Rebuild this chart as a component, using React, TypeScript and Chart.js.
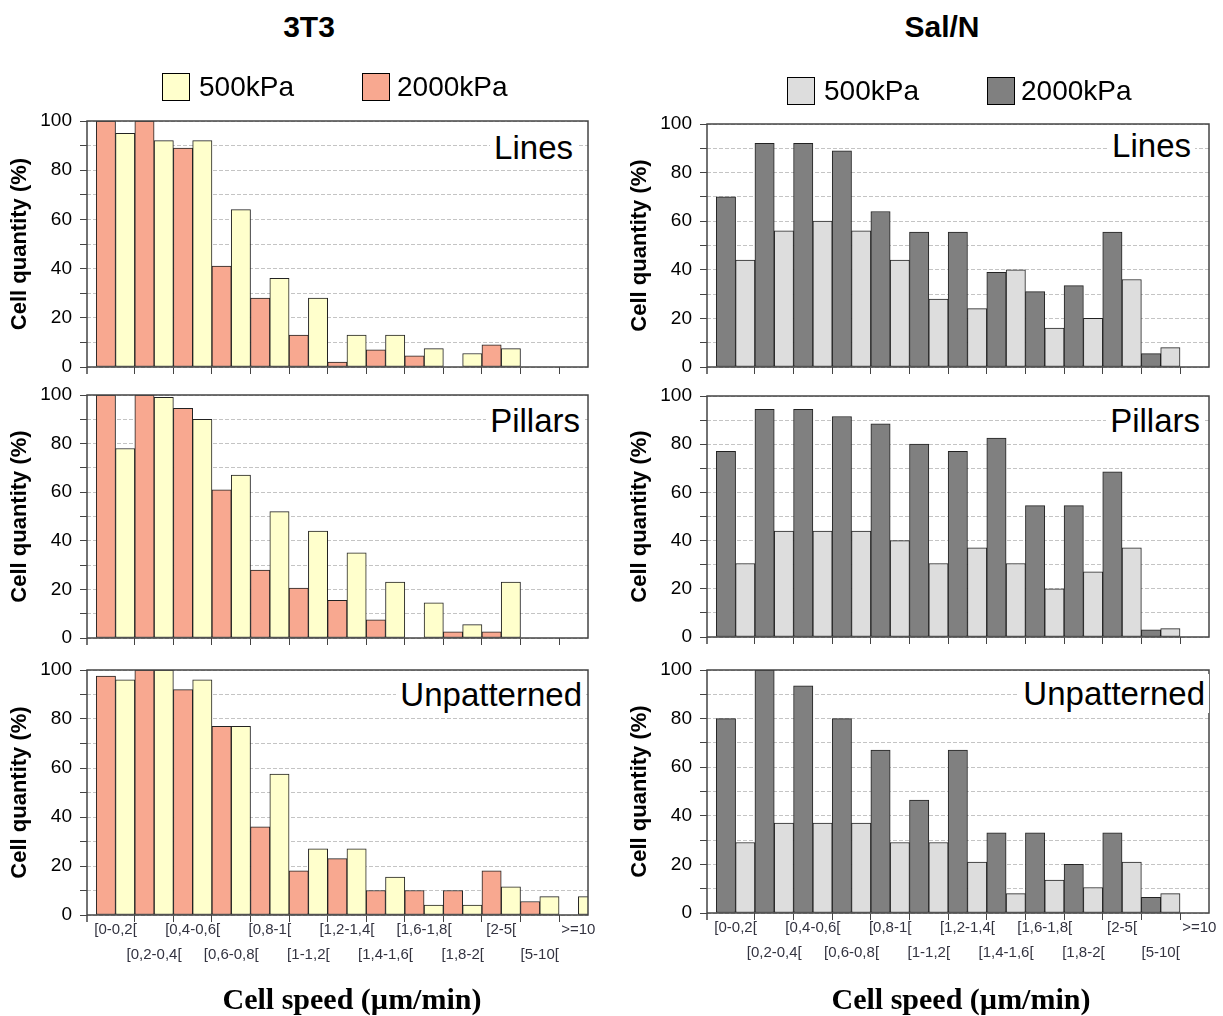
import React, { useEffect, useRef } from 'react';
import { Chart, registerables } from 'chart.js';

Chart.register(...registerables);

// ---------- data ----------
const categories = [
  '[0-0,2[', '[0,2-0,4[', '[0,4-0,6[', '[0,6-0,8[', '[0,8-1[', '[1-1,2[', '[1,2-1,4[',
  '[1,4-1,6[', '[1,6-1,8[', '[1,8-2[', '[2-5[', '[5-10[', '>=10',
];
const yTicks = [0, 20, 40, 60, 80, 100];
const seriesNames = ['500kPa', '2000kPa'];
const columnTitles = ['3T3', 'Sal/N'];
const panelNames = ['Lines', 'Pillars', 'Unpatterned'];

const t3LinesStiff = [100, 100, 89, 41, 28, 13, 2, 7, 4.5, 0, 9, 0, 0];
const t3LinesSoft = [95, 92, 92, 64, 36, 28, 13, 13, 7.5, 5.5, 7.5, 0, 0];
const t3PillarsStiff = [100, 100, 94.5, 61, 28, 20.5, 15.5, 7.5, 0, 2.5, 2.5, 0, 0];
const t3PillarsSoft = [78, 99, 90, 67, 52, 44, 35, 23, 14.5, 5.5, 23, 0, 0];
const t3FlatStiff = [97.5, 100, 92, 77, 36, 18, 23, 10, 10, 10, 18, 5.5, 0];
const t3FlatSoft = [96, 100, 96, 77, 57.5, 27, 27, 15.5, 4, 4, 11.5, 7.5, 7.5];

const salLinesStiff = [70, 92, 92, 89, 64, 55.5, 55.5, 39, 31, 33.5, 55.5, 5.5, 0];
const salLinesSoft = [44, 56, 60, 56, 44, 28, 24, 40, 16, 20, 36, 8, 0];
const salPillarsStiff = [77, 94.5, 94.5, 91.5, 88.5, 80, 77, 82.5, 54.5, 54.5, 68.5, 3, 0];
const salPillarsSoft = [30.5, 44, 44, 44, 40, 30.5, 37, 30.5, 20, 27, 37, 3.5, 0];
const salFlatStiff = [80, 100, 93.5, 80, 67, 46.5, 67, 33, 33, 20, 33, 6.5, 0];
const salFlatSoft = [29, 37, 37, 37, 29, 29, 21, 8, 13.5, 10.5, 21, 8, 0];

// ---------- styles ----------
const SANS = '"Liberation Sans", Arial, sans-serif';
const SERIF = '"Liberation Serif", "Times New Roman", serif';
const AXIS = '#444444';
const GRID = '#c4c4c4';
const EDGE = '#222222';
const COLORS = [
  { soft: '#FFFFCC', stiff: '#F8A890' },
  { soft: '#DDDDDD', stiff: '#808080' },
];
const X_MIN = -0.74;
const X_MAX = 12.25;
const Y_W = 87;
const PAD_T = 24;
const PAD_R = 14;
const PAD_B = 12;

const boxPlugin = {
  id: 'plotBox',
  afterDatasetsDraw(chart: any) {
    const { ctx, chartArea: a } = chart;
    ctx.save();
    ctx.strokeStyle = AXIS;
    ctx.lineWidth = 1.5;
    ctx.strokeRect(a.left, a.top, a.right - a.left, a.bottom - a.top);
    ctx.beginPath();
    ctx.moveTo(a.left, a.bottom);
    ctx.lineTo(a.left, a.bottom + 7);
    ctx.stroke();
    ctx.restore();
  },
};

type PanelProps = {
  soft: number[];
  stiff: number[];
  col: number;
  plotLeft: number;
  plotRight: number;
  plotTop: number;
  plotBottom: number;
  showLabels: boolean;
};

function Panel(p: PanelProps) {
  const ref = useRef<HTMLCanvasElement>(null);
  const xH = p.showLabels ? 62 : 10;
  const cLeft = p.plotLeft - Y_W;
  const cTop = p.plotTop - PAD_T;
  const cW = p.plotRight - cLeft + PAD_R;
  const cH = PAD_T + (p.plotBottom - p.plotTop) + xH + PAD_B;

  useEffect(() => {
    if (!ref.current) return;
    const unit = (p.plotRight - p.plotLeft) / (X_MAX - X_MIN);
    const colors = COLORS[p.col];
    const chart = new Chart(ref.current, {
      type: 'bar',
      data: {
        datasets: [
          {
            label: seriesNames[1],
            data: p.stiff.map((v, i) => ({ x: i, y: v })),
            backgroundColor: colors.stiff,
            borderColor: EDGE,
            borderWidth: 1,
            borderSkipped: false,
            categoryPercentage: 1,
            barPercentage: 1,
            clip: 0,
          } as any,
          {
            label: seriesNames[0],
            data: p.soft.map((v, i) => ({ x: i, y: v })),
            backgroundColor: colors.soft,
            borderColor: EDGE,
            borderWidth: 1,
            borderSkipped: false,
            categoryPercentage: 1,
            barPercentage: 1,
            clip: 0,
          } as any,
        ],
      },
      options: {
        responsive: false,
        animation: false,
        layout: { padding: { top: PAD_T, right: PAD_R, bottom: PAD_B, left: 0 } },
        plugins: { legend: { display: false }, tooltip: { enabled: false } },
        scales: {
          x: {
            type: 'linear',
            min: X_MIN,
            max: X_MAX,
            offset: false,
            afterBuildTicks: (s: any) => {
              s.ticks = categories.map((_, i) => ({ value: i - 0.5 }));
            },
            afterFit: (s: any) => {
              s.height = xH;
            },
            grid: {
              drawOnChartArea: false,
              offset: false,
              tickLength: 7,
              tickWidth: 1,
              tickColor: (c: any) => (c.index === 0 ? 'rgba(0,0,0,0)' : AXIS),
            },
            border: { display: false },
            ticks: {
              display: p.showLabels,
              autoSkip: false,
              maxRotation: 0,
              minRotation: 0,
              padding: -4.5,
              labelOffset: unit / 2,
              color: '#333340',
              font: { family: SANS, size: 15, lineHeight: '25px' },
              callback: (_v: any, i: number) =>
                i % 2 === 0 ? [categories[i], ''] : ['', categories[i]],
            },
          } as any,
          y: {
            min: 0,
            max: 100,
            afterFit: (s: any) => {
              s.width = Y_W;
            },
            ticks: {
              stepSize: 10,
              autoSkip: false,
              padding: 8,
              color: '#000',
              font: { family: SANS, size: 19 },
              callback: (v: any) => (yTicks.includes(Number(v)) ? String(v) : ''),
            },
            grid: {
              color: GRID,
              lineWidth: 1,
              tickColor: AXIS,
              tickLength: 7,
              tickBorderDash: [],
            },
            border: { display: false, dash: [4, 2] },
            title: {
              display: true,
              text: 'Cell quantity (%)',
              color: '#000',
              font: { family: SANS, size: 22, weight: 'bold' },
              padding: { top: 7, bottom: 0 },
            },
          } as any,
        },
      },
      plugins: [boxPlugin],
    });
    return () => chart.destroy();
  }, []);

  return (
    <canvas
      ref={ref}
      width={cW}
      height={cH}
      style={{ position: 'absolute', left: cLeft, top: cTop, width: cW, height: cH }}
    />
  );
}

const columns = [
  {
    left: 87,
    right: 588,
    rows: [
      [121, 367],
      [395, 638],
      [670, 915],
    ],
    data: [
      [t3LinesSoft, t3LinesStiff],
      [t3PillarsSoft, t3PillarsStiff],
      [t3FlatSoft, t3FlatStiff],
    ],
    labels: [
      [573, 147.5],
      [580, 420],
      [582, 694],
    ],
    titleX: 309,
    xTitleX: 352,
    legend: { y: 87, boxes: [162, 362], texts: [199, 397] },
  },
  {
    left: 707,
    right: 1209,
    rows: [
      [124, 367],
      [396, 637],
      [670, 913],
    ],
    data: [
      [salLinesSoft, salLinesStiff],
      [salPillarsSoft, salPillarsStiff],
      [salFlatSoft, salFlatStiff],
    ],
    labels: [
      [1191, 145.5],
      [1200, 420],
      [1205, 693.5],
    ],
    titleX: 942,
    xTitleX: 961,
    legend: { y: 90.5, boxes: [787, 987], texts: [824, 1021] },
  },
];

export default function App() {
  const abs = (o: any) => ({ position: 'absolute' as const, ...o });
  return (
    <div
      style={{
        position: 'absolute',
        left: 0,
        top: 0,
        width: 1223,
        height: 1016,
        background: '#fff',
        overflow: 'hidden',
        fontFamily: SANS,
        color: '#000',
      }}
    >
      {columns.map((c, ci) =>
        c.rows.map((r, ri) => (
          <Panel
            key={`${ci}-${ri}`}
            soft={c.data[ri][0]}
            stiff={c.data[ri][1]}
            col={ci}
            plotLeft={c.left}
            plotRight={c.right}
            plotTop={r[0]}
            plotBottom={r[1]}
            showLabels={ri === 2}
          />
        ))
      )}
      {columns.map((c, ci) => (
        <React.Fragment key={`t${ci}`}>
          <div
            style={abs({
              left: c.titleX - 100,
              width: 200,
              top: 26.5 - 0.49 * 30,
              textAlign: 'center',
              fontSize: 30,
              lineHeight: '30px',
              fontWeight: 'bold',
            })}
          >
            {columnTitles[ci]}
          </div>
          {[0, 1].map((k) => (
            <React.Fragment key={`l${k}`}>
              <div
                style={abs({
                  left: c.legend.boxes[k],
                  top: c.legend.y - 14,
                  width: 28,
                  height: 28,
                  boxSizing: 'border-box',
                  border: '1px solid #000',
                  background: k === 0 ? COLORS[ci].soft : COLORS[ci].stiff,
                })}
              />
              <div
                style={abs({
                  left: c.legend.texts[k],
                  top: c.legend.y - 0.49 * 28,
                  fontSize: 28,
                  lineHeight: '28px',
                  whiteSpace: 'nowrap',
                })}
              >
                {seriesNames[k]}
              </div>
            </React.Fragment>
          ))}
          {c.labels.map((lb, li) => (
            <div
              key={`p${li}`}
              style={abs({
                right: 1223 - lb[0] - 4,
                top: lb[1] - 0.49 * 33 - 3,
                padding: '3px 4px',
                background: '#fff',
                fontSize: 33,
                lineHeight: '33px',
                whiteSpace: 'nowrap',
              })}
            >
              {panelNames[li]}
            </div>
          ))}
          <div
            style={abs({
              left: c.xTitleX - 200,
              width: 400,
              top: 999 - 0.5065 * 30,
              textAlign: 'center',
              fontFamily: SERIF,
              fontWeight: 'bold',
              fontSize: 30,
              lineHeight: '30px',
              whiteSpace: 'nowrap',
            })}
          >
            Cell speed (µm/min)
          </div>
        </React.Fragment>
      ))}
    </div>
  );
}
